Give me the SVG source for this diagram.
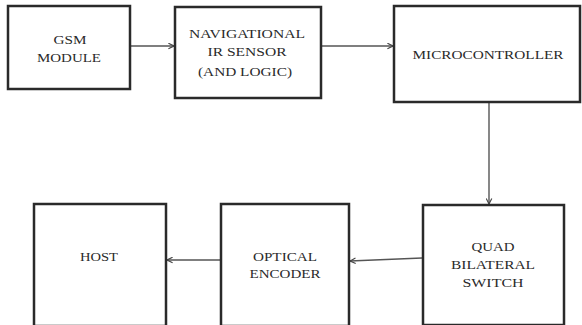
<svg xmlns="http://www.w3.org/2000/svg" width="582" height="325" viewBox="0 0 582 325">
<style>
.box{fill:#fff;stroke:#2a2a2a;stroke-width:2.5}
.t{font-family:"Liberation Serif","DejaVu Serif",serif;font-size:12px;fill:#2a2a2a;text-anchor:middle}
.c{fill:none;stroke:#555;stroke-width:1.4}
</style>
<defs>
<marker id="ah" viewBox="0 0 10 10" refX="9" refY="5" markerWidth="7" markerHeight="7" markerUnits="userSpaceOnUse" orient="auto">
<path d="M1,1 L9,5 L1,9" fill="none" stroke="#444" stroke-width="1.6"/>
</marker>
</defs>
<rect width="582" height="325" fill="#fff"/>
<g id="connectors">
<line class="c" x1="131" y1="46" x2="174" y2="46" marker-end="url(#ah)"/>
<line class="c" x1="322" y1="46" x2="393" y2="46" marker-end="url(#ah)"/>
<line class="c" x1="489" y1="103" x2="489" y2="204" marker-end="url(#ah)"/>
<line class="c" x1="422" y1="258" x2="350" y2="261" marker-end="url(#ah)"/>
<line class="c" x1="220" y1="260" x2="167" y2="260" marker-end="url(#ah)"/>
</g>
<g id="gsm">
<rect class="box" x="8" y="6" width="122" height="83"/>
<text class="t" x="70" y="44" textLength="33" lengthAdjust="spacingAndGlyphs">GSM</text>
<text class="t" x="69" y="62" textLength="64" lengthAdjust="spacingAndGlyphs">MODULE</text>
</g>
<g id="nav">
<rect class="box" x="175" y="7" width="146" height="91"/>
<text class="t" x="247" y="38" textLength="116" lengthAdjust="spacingAndGlyphs">NAVIGATIONAL</text>
<text class="t" x="247" y="56" textLength="79" lengthAdjust="spacingAndGlyphs">IR SENSOR</text>
<text class="t" x="245" y="76" textLength="94" lengthAdjust="spacingAndGlyphs">(AND LOGIC)</text>
</g>
<g id="micro">
<rect class="box" x="394" y="6" width="186" height="96"/>
<text class="t" x="488" y="59" textLength="151" lengthAdjust="spacingAndGlyphs">MICROCONTROLLER</text>
</g>
<g id="quad">
<rect class="box" x="423" y="205" width="141" height="120"/>
<text class="t" x="493" y="251" textLength="43" lengthAdjust="spacingAndGlyphs">QUAD</text>
<text class="t" x="493" y="269" textLength="84" lengthAdjust="spacingAndGlyphs">BILATERAL</text>
<text class="t" x="493" y="287" textLength="61" lengthAdjust="spacingAndGlyphs">SWITCH</text>
</g>
<g id="optical">
<rect class="box" x="221" y="204" width="128" height="122"/>
<text class="t" x="285" y="261" textLength="64" lengthAdjust="spacingAndGlyphs">OPTICAL</text>
<text class="t" x="285" y="278" textLength="71" lengthAdjust="spacingAndGlyphs">ENCODER</text>
</g>
<g id="host">
<rect class="box" x="34" y="204" width="132" height="122"/>
<text class="t" x="99" y="261" textLength="38" lengthAdjust="spacingAndGlyphs">HOST</text>
</g>
</svg>
